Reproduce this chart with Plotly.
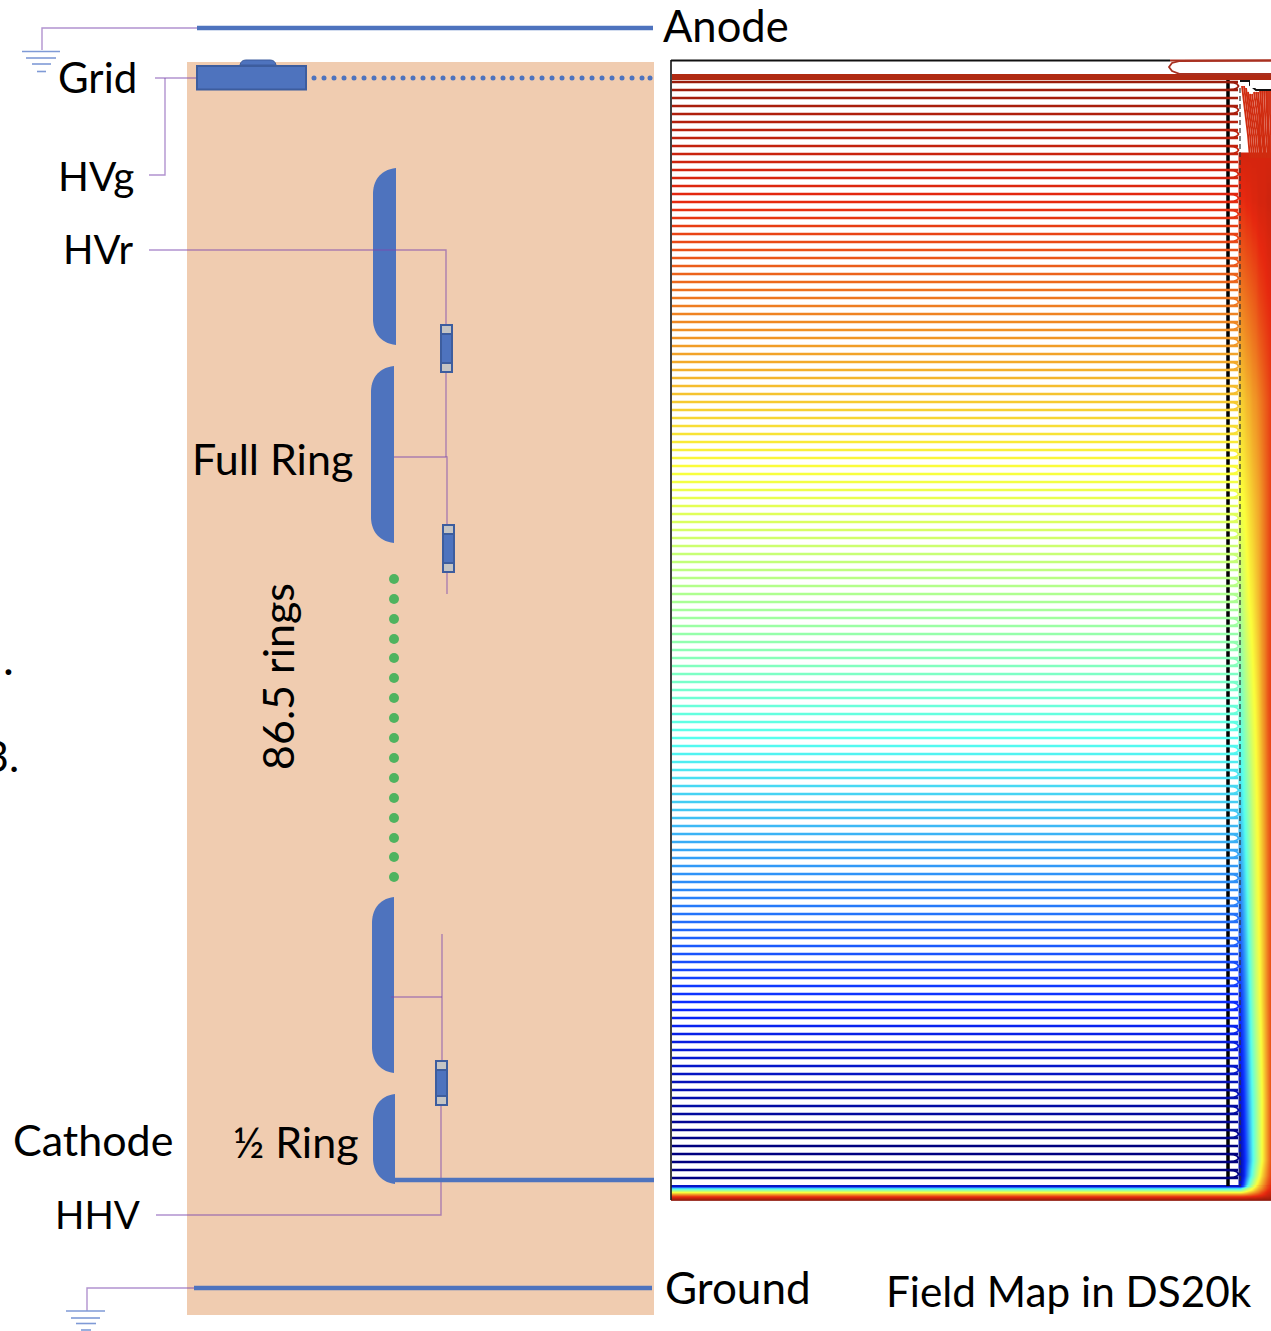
import plotly.graph_objects as go
from plotly.colors import sample_colorscale

# ---------- data (axis units = picture pixels) ----------
field_line_y = [82,90,98,106,114,122,130,138,146,154,162,170,178,186,194,202,210,218,226,234,
 242,250,258,266,274,282,290,298,306,314,322,330,338,346,354,362,370,378,386,394,
 402,410,418,426,434,442,450,458,466,474,482,490,498,506,514,522,530,538,546,554,
 562,570,578,586,594,602,610,618,626,634,642,650,658,666,674,682,690,698,706,714,
 722,730,738,746,754,762,770,778,786,794,802,810,818,826,834,842,850,858,866,874,
 882,890,898,906,914,922,930,938,946,954,962,970,978,986,994,1002,1010,1018,1026,1034,
 1042,1050,1058,1066,1074,1082,1090,1098,1106,1114,1122,1130,1138,1146,1154,1162,1170,1178]
field_line_level = [.984,.977,.969,.962,.954,.947,.940,.932,.925,.917,
 .910,.902,.895,.888,.880,.873,.865,.858,.851,.843,
 .836,.828,.821,.813,.806,.799,.791,.784,.776,.769,
 .762,.754,.747,.739,.732,.724,.717,.710,.702,.695,
 .687,.680,.673,.665,.658,.650,.643,.635,.628,.621,
 .613,.606,.598,.591,.584,.576,.569,.561,.554,.546,
 .539,.532,.524,.517,.509,.502,.495,.487,.480,.472,
 .465,.457,.450,.443,.435,.428,.420,.413,.406,.398,
 .391,.383,.376,.368,.361,.354,.346,.339,.331,.324,
 .317,.309,.302,.294,.287,.279,.272,.265,.257,.250,
 .243,.235,.228,.220,.213,.205,.198,.191,.183,.176,
 .169,.161,.154,.146,.139,.131,.124,.117,.109,.102,
 .095,.087,.080,.072,.065,.057,.050,.043,.035,.028,
 .021,.013,.006,0,0,0,0,0]
loop_start = [0,3,6,8,11,14,16,19,22,24,27,30,32,35,38,40,43,46,48,51,54,56,59,62,64,67,70,72,75,78,80,
 83,86,88,91,94,96,99,102,104,107,110,112,115,118,120,123,126,128,131,134,136]

band_x = [1240,1243,1246,1249,1252,1255,1258,1261,1264,1267,1271]
band_y = [153,154,200,300,400,500,600,700,800,900,1000,1100,1160,1175,1186]
band_z = [
 [.90,.90,.90,.90,.90,.90,.90,.90,.90,.90,.90],
 [.90,.90,.90,.90,.90,.90,.90,.90,.90,.90,.90],
 [.87,.87,.88,.88,.89,.89,.90,.90,.90,.91,.91],
 [.77,.78,.79,.80,.81,.82,.84,.85,.86,.87,.88],
 [.68,.69,.71,.72,.74,.75,.77,.79,.81,.83,.86],
 [.62,.63,.65,.67,.69,.71,.73,.76,.79,.82,.86],
 [.52,.56,.60,.63,.65,.68,.71,.75,.78,.82,.86],
 [.42,.47,.52,.57,.61,.64,.68,.73,.77,.82,.86],
 [.33,.38,.44,.50,.56,.61,.65,.70,.75,.80,.85],
 [.23,.29,.36,.44,.51,.58,.63,.68,.73,.79,.85],
 [.14,.20,.28,.37,.46,.54,.60,.66,.72,.78,.85],
 [.08,.13,.22,.31,.39,.47,.55,.62,.69,.76,.85],
 [.05,.10,.18,.28,.37,.46,.54,.62,.69,.76,.85],
 [.05,.10,.22,.33,.42,.52,.60,.67,.73,.79,.86],
 [.07,.18,.34,.45,.55,.63,.69,.74,.79,.84,.88]]
floor_x = [671.5,672,1232,1240,1243,1246,1249,1252,1255,1258,1261,1264,1267,1271]
floor_y = [1186,1188,1190,1192,1194,1196,1198,1200]
floor_z = [
 [.07,.07,.07,.07,.18,.34,.45,.55,.63,.69,.74,.79,.84,.88],
 [.33,.33,.33,.33,.42,.50,.57,.62,.67,.72,.76,.81,.85,.89],
 [.48,.48,.48,.48,.53,.58,.62,.66,.71,.75,.79,.83,.87,.90],
 [.62,.62,.62,.62,.64,.67,.70,.73,.76,.79,.83,.86,.89,.92],
 [.74,.74,.74,.74,.75,.76,.78,.80,.82,.84,.86,.88,.91,.93],
 [.85,.85,.85,.85,.85,.86,.86,.87,.88,.89,.90,.92,.93,.95],
 [.93,.93,.93,.93,.93,.93,.94,.94,.94,.95,.95,.96,.96,.97],
 [1,1,1,1,1,1,1,1,1,1,1,1,1,1]]
fan_lines = [
 ([1242,1245,1248,1250],[86,108,135,158]),
 ([1244,1247,1250,1252],[86,108,135,158]),
 ([1246,1249,1252,1254],[88,110,135,158]),
 ([1248,1251,1254,1256],[92,112,135,158]),
 ([1250,1253,1256,1258],[94,114,135,158]),
 ([1252,1255,1258,1260],[94,114,135,158]),
 ([1254,1257,1259,1261],[92,114,135,158]),
 ([1256,1259,1260,1262],[92,114,135,158]),
 ([1258,1260,1262,1264],[92,114,135,158]),
 ([1260,1262,1263,1265],[90,114,135,158]),
 ([1262,1263,1264,1266],[90,114,135,158]),
 ([1264,1265,1266,1268],[90,114,135,158]),
 ([1266,1267,1268,1269],[90,114,135,158]),
 ([1268,1268,1269,1270],[90,114,135,158]),
 ([1270,1270,1271,1271],[90,114,135,158]),
]
green_dot_y = [579,599,619,639,658,678,698,718,738,758,778,798,818,838,857,877]
grid_dot_x = [314,324,334,344,354,364,374,384,393,403,413,423,433,443,453,463,473,483,493,503,
 512,522,532,542,552,562,572,582,592,602,612,622,632,642,650]
rings = [(373,396,168,345),(371,394,366,543),(372,394,897,1073),(373,395,1094,1184)]
resistors = [(440,453,325,372),(442,455,525,572),(435,448,1061,1105)]
wires = [
 ([197,42,42],[28,28,50]),
 ([155,196],[78,78]), ([165,165,149],[78,175,175]),
 ([149,446,446],[250,250,325]), ([446,446],[372,457]),
 ([394,447,447],[457,457,525]), ([447,447],[572,594]),
 ([442,442],[934,1061]), ([391,442],[997,997]),
 ([441,441,156],[1105,1215,1215]),
 ([194,87,87],[1288,1288,1311]),
]
ground_rungs = [
 ([22,60],51.5),([26,56],58),([32,51],64),([37,46],71.5),
 ([66,105],1311),([71,100],1318),([76,96],1323.5),([81,91],1330),
]
labels = [
 ("Anode",661,25,43.5),("Grid",56,77,42),("HVg",56,175,40.5),("HVr",61,249,40),("Full Ring",190,458,43),
 ("Cathode",11,1139,43),("½ Ring",231,1141,43),("HHV",53,1214,38.5),("Ground",663,1287,44),
 ("Field Map in DS20k",884,1290,42.3),
]

BLUE = "#4e73be"; EDGE = "#3d5d9e"; WIRE = "rgba(125,75,175,.6)"; FONT = "Lato"
jet = [[0,"#00007f"],[.125,"#0a28ff"],[.375,"#55fff0"],[.625,"#fbff3c"],[.875,"#e6280f"],[1,"#8f1a0a"]]

fig = go.Figure()
def line(x, y, color, width, **kw):
    fig.add_trace(go.Scatter(x=x, y=y, mode="lines", line=dict(color=color, width=width, **kw),
                             hoverinfo="skip", showlegend=False, cliponaxis=False))

# left panel wires and electrodes
for wx, wy in wires:
    line(wx, wy, WIRE, 1.4)
for rx, ry in ground_rungs:
    line(rx, [ry, ry], "#7f9ad6", 1.6)
line([197,653],[28,28],BLUE,4.5)
line([194,652],[1288,1288],BLUE,4.5)
line([394,654],[1180,1180],BLUE,4.5)
fig.add_trace(go.Scatter(x=grid_dot_x,y=[78]*len(grid_dot_x),mode="markers",
    marker=dict(color=BLUE,size=5),hoverinfo="skip"))
fig.add_trace(go.Scatter(x=[394]*len(green_dot_y),y=green_dot_y,mode="markers",
    marker=dict(color="#4fb35f",size=10),hoverinfo="skip"))

# field map
line([1228,1228],[78,1186],"#000000",3.5)
line([1240,1240],[88,1186],"#333333",1.2,dash="5px,3px")
fig.add_trace(go.Heatmap(x=band_x,y=band_y,z=band_z,colorscale=jet,zmin=0,zmax=1,
    zsmooth="best",showscale=False,hoverinfo="skip"))
fig.add_trace(go.Heatmap(x=floor_x,y=floor_y,z=floor_z,colorscale=jet,zmin=0,zmax=1,
    zsmooth="best",showscale=False,hoverinfo="skip"))
colors = sample_colorscale(jet, field_line_level)
for yv, c in zip(field_line_y, colors):
    line([672,1238],[yv,yv],c,2.7)
for i in loop_start:
    a, b = field_line_y[i], field_line_y[i+1]
    m = (a+b)/2; h = (b-a)/2
    line([1226,1233,1237,1238.5,1237,1233,1226],[a,a+.12*h,a+.5*h,m,b-.5*h,b-.12*h,b],colors[i],1.8)
for fx, fy in fan_lines:
    line(fx, fy, "#d02c10", 1.9)
# top of the map
line([672,1271],[77,77],"#b02a12",6)
line([671,671],[60,1200],"#111111",1.6)
line([671,1170],[60.5,60.5],"#111111",2.2)
line([1170,1271],[60.5,60.5],"#a83020",2.2)
line([1271,1180,1172,1169,1172,1180,1271],[60.5,61,63,67,71,74,74],"#a83020",1.8)
line([1240,1250,1250,1256,1271],[81,81,85,90,90],"#111111",2)
line([671,1271],[1200.5,1200.5],"#a03a30",1.2)

shapes = [dict(type="rect",x0=187,x1=654,y0=62,y1=1315,fillcolor="#f0ccb0",line_width=0,layer="below"),
          dict(type="path",path="M 240 65 Q 241 60 246 60 L 270 60 Q 275 60 276 65 Z",fillcolor=BLUE,
               line=dict(color=EDGE,width=1),layer="below"),
          dict(type="rect",x0=197,x1=306,y0=66,y1=89.5,fillcolor=BLUE,line=dict(color=EDGE,width=2),layer="below"),
          dict(type="rect",x0=1250,x1=1262,y0=80,y1=88,fillcolor="#ffffff",line_width=0,layer="above"),
          ]
for x0,x1,y0,y1 in rings:
    shapes.append(dict(type="path",
        path=f"M {x1} {y0} C {x0+6} {y0+2} {x0} {y0+14} {x0} {y0+26} L {x0} {y1-26} "
             f"C {x0} {y1-14} {x0+6} {y1-2} {x1} {y1} Z",
        fillcolor=BLUE,line_width=0,layer="below"))
for x0,x1,y0,y1 in resistors:
    shapes.append(dict(type="rect",x0=x0+1,x1=x1-1,y0=y0+3,y1=y1-3,fillcolor=BLUE,line=dict(color=EDGE,width=2),layer="above"))
    shapes.append(dict(type="rect",x0=x0+1,x1=x1-1,y0=y0,y1=y0+9,fillcolor="#c4c4c4",line=dict(color=EDGE,width=2),layer="above"))
    shapes.append(dict(type="rect",x0=x0+1,x1=x1-1,y0=y1-9,y1=y1,fillcolor="#c4c4c4",line=dict(color=EDGE,width=2),layer="above"))

def font(size):
    return dict(family=FONT,size=size,color="#000000")
anns = [dict(text=t,x=x,y=y,xanchor="left",yanchor="middle",showarrow=False,font=font(s)) for t,x,y,s in labels]
anns.append(dict(text="86.5 rings",x=277,y=677,textangle=-90,xanchor="center",yanchor="middle",showarrow=False,font=font(43)))
anns.append(dict(text=".",x=16,y=657,xanchor="right",yanchor="middle",showarrow=False,font=font(46)))
anns.append(dict(text="3.",x=21,y=755,xanchor="right",yanchor="middle",showarrow=False,font=font(43)))

fig.update_layout(width=1271,height=1331,margin=dict(l=0,r=0,t=0,b=0),
    paper_bgcolor="white",plot_bgcolor="white",showlegend=False,shapes=shapes,annotations=anns,
    xaxis=dict(range=[0,1271],visible=False,fixedrange=True),
    yaxis=dict(range=[1331,0],visible=False,fixedrange=True))
fig.write_html("out.html",config=dict(displayModeBar=False),
    post_script="document.body.style.margin='0';")
